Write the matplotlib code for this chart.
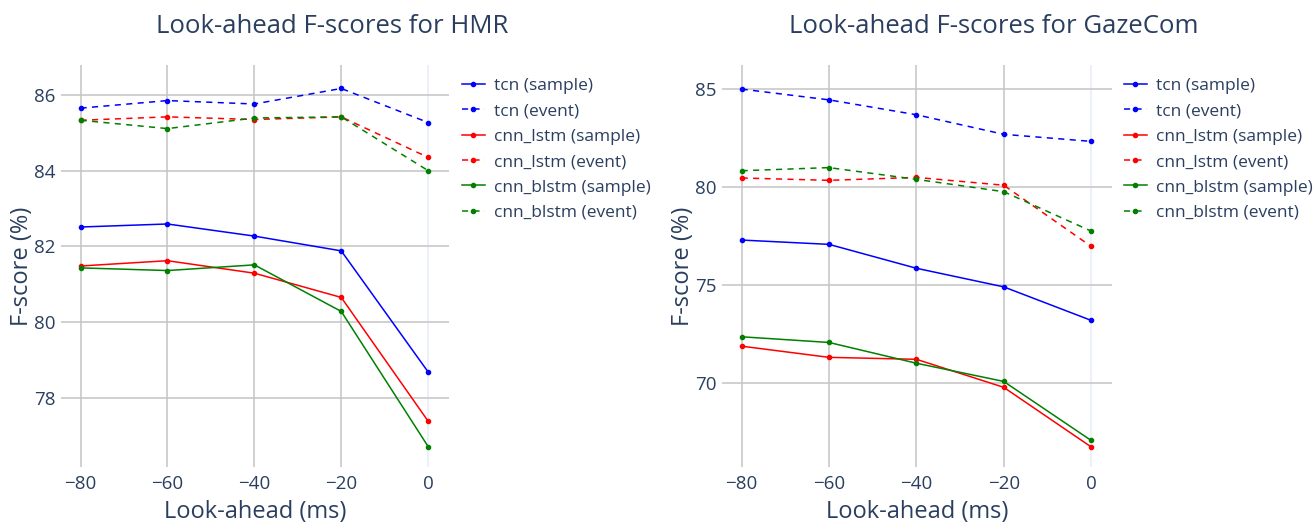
import matplotlib.pyplot as plt
import numpy as np

# look-ahead offsets in ms
look_ahead = [-80, -60, -40, -20, 0]

# HMR F-scores (%)
hmr_tcn_sample = [82.51, 82.59, 82.27, 81.88, 78.68]
hmr_tcn_event = [85.65, 85.85, 85.76, 86.17, 85.27]
hmr_lstm_sample = [81.48, 81.62, 81.29, 80.65, 77.38]
hmr_lstm_event = [85.33, 85.42, 85.35, 85.42, 84.35]
hmr_blstm_sample = [81.43, 81.36, 81.51, 80.28, 76.71]
hmr_blstm_event = [85.33, 85.11, 85.39, 85.42, 84.00]

# GazeCom F-scores (%)
gc_tcn_sample = [77.29, 77.07, 75.85, 74.90, 73.19]
gc_tcn_event = [85.00, 84.45, 83.69, 82.69, 82.33]
gc_lstm_sample = [71.87, 71.30, 71.20, 69.77, 66.73]
gc_lstm_event = [80.46, 80.34, 80.49, 80.09, 76.97]
gc_blstm_sample = [72.35, 72.06, 71.00, 70.07, 67.06]
gc_blstm_event = [80.83, 80.99, 80.39, 79.76, 77.75]

labels = ['tcn (sample)', 'tcn (event)', 'cnn_lstm (sample)',
          'cnn_lstm (event)', 'cnn_blstm (sample)', 'cnn_blstm (event)']
colors = ['#0000ff', '#0000ff', '#ff0000', '#ff0000', '#008000', '#008000']

TXT = '#2a3f5f'
W, H = 1313, 522
plt.rcParams['font.family'] = ['Open Sans', 'DejaVu Sans']

fig = plt.figure(figsize=(W / 100, H / 100), dpi=100, facecolor='white')


def draw_panel(ax, series, title, title_x, yticks, ylim, legend_x):
    for i, (vals, lab, col) in enumerate(zip(series, labels, colors)):
        dashed = i % 2 == 1
        ax.plot(look_ahead, vals, color=col, lw=1.1, marker='o', ms=3,
                label=lab, dashes=(4, 3.5) if dashed else (None, None),
                zorder=3)
    ax.set_xlim(-84.5, 4.8)
    ax.set_ylim(*ylim)
    ax.set_xticks(look_ahead)
    ax.set_xticklabels(['\u221280', '\u221260', '\u221240', '\u221220', '0'])
    ax.set_yticks(yticks)
    # grid: grey lines, pale zero line at x = 0
    for x in look_ahead[:-1]:
        ax.axvline(x, color='#c4c4c4', lw=1.1, zorder=1)
    ax.axvline(0, color='#ebf0f8', lw=1.3, zorder=1)
    for y in yticks:
        ax.axhline(y, color='#c4c4c4', lw=1.1, zorder=1)
    for s in ax.spines.values():
        s.set_visible(False)
    ax.tick_params(length=0, labelsize=13.5, colors=TXT)
    ax.tick_params(axis='x', pad=6)
    ax.tick_params(axis='y', pad=4)
    ax.set_xlabel('Look-ahead (ms)', fontsize=17, color=TXT, labelpad=5)
    ax.set_ylabel('F-score (%)', fontsize=17, color=TXT, labelpad=0)
    fig.text(title_x / W, 1 - 33 / H, title, fontsize=18.5, color=TXT,
             ha='center', va='baseline')
    ax.legend(loc='upper left', bbox_to_anchor=(legend_x, 1 - 71 / H),
              bbox_transform=fig.transFigure, frameon=False, fontsize=12.5,
              labelcolor=TXT, handlelength=1.3, handletextpad=0.55,
              labelspacing=0.53, borderaxespad=0)


ax1 = fig.add_axes([61 / W, 55 / H, 388 / W, 402 / H])
draw_panel(ax1, [hmr_tcn_sample, hmr_tcn_event, hmr_lstm_sample,
                 hmr_lstm_event, hmr_blstm_sample, hmr_blstm_event],
           'Look-ahead F-scores for HMR', 332, [78, 80, 82, 84, 86],
           (76.17, 86.79), 455 / W)

ax2 = fig.add_axes([722 / W, 55 / H, 390 / W, 402 / H])
draw_panel(ax2, [gc_tcn_sample, gc_tcn_event, gc_lstm_sample,
                 gc_lstm_event, gc_blstm_sample, gc_blstm_event],
           'Look-ahead F-scores for GazeCom', 994, [70, 75, 80, 85],
           (65.7, 86.23), 1117 / W)

fig.savefig('out.png', dpi=100, facecolor='white')
